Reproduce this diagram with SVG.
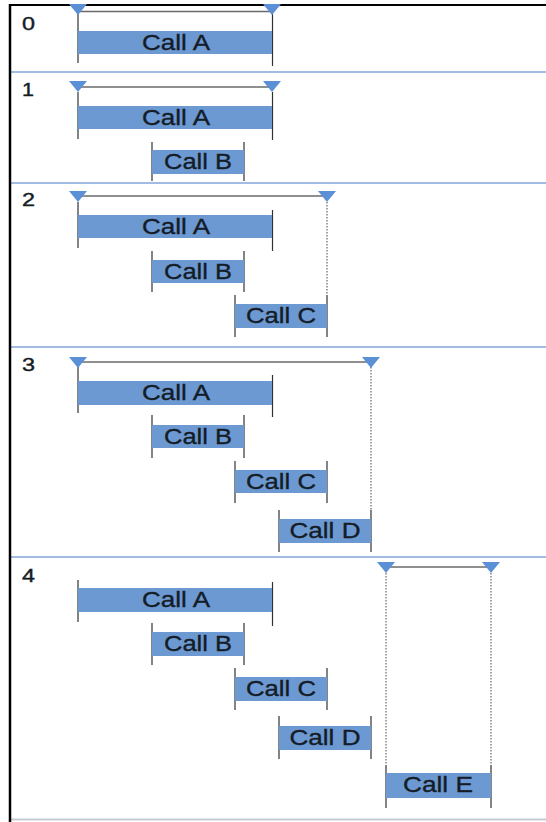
<svg xmlns="http://www.w3.org/2000/svg" width="546" height="822" viewBox="0 0 546 822">
<defs>
<style>
.bar{fill:#6d99d3}
.lbl{font-family:"Liberation Sans",Arial,sans-serif;font-size:22px;fill:#141c26;stroke:#141c26;stroke-width:0.35;text-anchor:middle}
.num{font-family:"Liberation Sans",Arial,sans-serif;font-size:18px;fill:#141c26;stroke:#141c26;stroke-width:0.4}
.tick{stroke:#2e3338;stroke-width:1.2}
.span{stroke:#6a6a6a;stroke-width:1.5}
.dot{stroke:#666;stroke-width:1.2;stroke-dasharray:1.5 1.5}
.div{stroke:#a3bbe3;stroke-width:2}
.tri{fill:#5b8fd6}
</style>
<polygon id="tri" class="tri" points="-9,0 9,0 0,11"/>
</defs>
<rect width="546" height="822" fill="#fff"/>
<g id="frame">
<line class="div" x1="10" y1="72" x2="546" y2="72"/>
<line class="div" x1="10" y1="183" x2="546" y2="183"/>
<line class="div" x1="10" y1="347" x2="546" y2="347"/>
<line class="div" x1="10" y1="557" x2="546" y2="557" stroke="#86a6dd"/>
<line x1="10" y1="819.5" x2="546" y2="819.5" stroke="#c8ccd2" stroke-width="2"/>
<line x1="10" y1="5" x2="546" y2="5" stroke="#000" stroke-width="2"/>
<line x1="10" y1="4" x2="10" y2="822" stroke="#000" stroke-width="2.5"/>
</g>
<g id="connectors">
<line class="span" x1="78" y1="11.5" x2="272" y2="11.5" stroke="#8c8a88"/>
<line class="tick" x1="78" y1="14" x2="78" y2="63"/>
<line class="tick" x1="272.5" y1="14" x2="272.5" y2="66"/>
<line class="span" x1="78" y1="87" x2="272" y2="87" stroke="#444"/>
<line class="tick" x1="78" y1="92" x2="78" y2="139"/>
<line class="tick" x1="272.5" y1="92" x2="272.5" y2="140"/>
<line class="tick" x1="152" y1="142" x2="152" y2="181"/>
<line class="tick" x1="244" y1="142" x2="244" y2="181"/>
<line class="span" x1="78" y1="196" x2="327" y2="196" stroke="#8a8a8a"/>
<line class="tick" x1="78" y1="202" x2="78" y2="248"/>
<line class="tick" x1="272.5" y1="210" x2="272.5" y2="251"/>
<line class="tick" x1="152" y1="251" x2="152" y2="292"/>
<line class="tick" x1="244" y1="251" x2="244" y2="292"/>
<line class="tick" x1="235" y1="295" x2="235" y2="337"/>
<line class="dot" x1="327" y1="202" x2="327" y2="295"/>
<line class="tick" x1="327" y1="295" x2="327" y2="337"/>
<line class="span" x1="78" y1="362" x2="371" y2="362" stroke="#444"/>
<line class="tick" x1="78" y1="367" x2="78" y2="413"/>
<line class="tick" x1="272.5" y1="375" x2="272.5" y2="417"/>
<line class="tick" x1="152" y1="415" x2="152" y2="458"/>
<line class="tick" x1="244" y1="415" x2="244" y2="458"/>
<line class="tick" x1="235" y1="461" x2="235" y2="503"/>
<line class="tick" x1="327" y1="461" x2="327" y2="503"/>
<line class="tick" x1="279" y1="510" x2="279" y2="552"/>
<line class="dot" x1="371" y1="367" x2="371" y2="510"/>
<line class="tick" x1="371" y1="510" x2="371" y2="552"/>
<line class="span" x1="386" y1="567" x2="491" y2="567" stroke="#9a9a9a"/>
<line class="tick" x1="78" y1="580" x2="78" y2="622"/>
<line class="tick" x1="272.5" y1="582" x2="272.5" y2="626"/>
<line class="tick" x1="152" y1="623" x2="152" y2="665"/>
<line class="tick" x1="244" y1="623" x2="244" y2="665"/>
<line class="tick" x1="235" y1="668" x2="235" y2="710"/>
<line class="tick" x1="327" y1="668" x2="327" y2="710"/>
<line class="tick" x1="279" y1="716" x2="279" y2="759"/>
<line class="tick" x1="371" y1="716" x2="371" y2="759"/>
<line class="dot" x1="386" y1="573" x2="386" y2="765"/>
<line class="dot" x1="491" y1="573" x2="491" y2="765"/>
<line class="tick" x1="386" y1="765" x2="386" y2="808"/>
<line class="tick" x1="491" y1="765" x2="491" y2="808"/>
</g>
<g id="panel0">
<text class="num" x="22" y="30" textLength="13" lengthAdjust="spacingAndGlyphs">0</text>
<use href="#tri" x="78" y="4"/>
<use href="#tri" x="272" y="4"/>
<g id="p0-callA"><rect class="bar" x="78" y="31" width="194" height="23"/><text class="lbl" x="176" y="50" textLength="68" lengthAdjust="spacingAndGlyphs">Call A</text></g>
</g>
<g id="panel1">
<text class="num" x="22" y="96" textLength="12" lengthAdjust="spacingAndGlyphs">1</text>
<use href="#tri" x="78" y="81"/>
<use href="#tri" x="272" y="81"/>
<g id="p1-callA"><rect class="bar" x="78" y="106" width="194" height="23"/><text class="lbl" x="176" y="125" textLength="68" lengthAdjust="spacingAndGlyphs">Call A</text></g>
<g id="p1-callB"><rect class="bar" x="152" y="150" width="92" height="24"/><text class="lbl" x="198" y="169" textLength="68" lengthAdjust="spacingAndGlyphs">Call B</text></g>
</g>
<g id="panel2">
<text class="num" x="22" y="206" textLength="13" lengthAdjust="spacingAndGlyphs">2</text>
<use href="#tri" x="78" y="191"/>
<use href="#tri" x="327" y="191"/>
<g id="p2-callA"><rect class="bar" x="78" y="215" width="194" height="23"/><text class="lbl" x="176" y="234" textLength="68" lengthAdjust="spacingAndGlyphs">Call A</text></g>
<g id="p2-callB"><rect class="bar" x="152" y="260" width="92" height="23"/><text class="lbl" x="198" y="279" textLength="68" lengthAdjust="spacingAndGlyphs">Call B</text></g>
<g id="p2-callC"><rect class="bar" x="235" y="304" width="92" height="24"/><text class="lbl" x="281" y="323" textLength="70" lengthAdjust="spacingAndGlyphs">Call C</text></g>
</g>
<g id="panel3">
<text class="num" x="22" y="371" textLength="13" lengthAdjust="spacingAndGlyphs">3</text>
<use href="#tri" x="78" y="357"/>
<use href="#tri" x="371" y="357"/>
<g id="p3-callA"><rect class="bar" x="78" y="381" width="194" height="24"/><text class="lbl" x="176" y="400" textLength="68" lengthAdjust="spacingAndGlyphs">Call A</text></g>
<g id="p3-callB"><rect class="bar" x="152" y="425" width="92" height="23"/><text class="lbl" x="198" y="444" textLength="68" lengthAdjust="spacingAndGlyphs">Call B</text></g>
<g id="p3-callC"><rect class="bar" x="235" y="470" width="92" height="23"/><text class="lbl" x="281" y="489" textLength="70" lengthAdjust="spacingAndGlyphs">Call C</text></g>
<g id="p3-callD"><rect class="bar" x="279" y="519" width="92" height="24"/><text class="lbl" x="325" y="538" textLength="71" lengthAdjust="spacingAndGlyphs">Call D</text></g>
</g>
<g id="panel4">
<text class="num" x="22" y="582" textLength="13" lengthAdjust="spacingAndGlyphs">4</text>
<use href="#tri" x="386" y="562"/>
<use href="#tri" x="491" y="562"/>
<g id="p4-callA"><rect class="bar" x="78" y="588" width="194" height="24"/><text class="lbl" x="176" y="607" textLength="68" lengthAdjust="spacingAndGlyphs">Call A</text></g>
<g id="p4-callB"><rect class="bar" x="152" y="632" width="92" height="24"/><text class="lbl" x="198" y="651" textLength="68" lengthAdjust="spacingAndGlyphs">Call B</text></g>
<g id="p4-callC"><rect class="bar" x="235" y="677" width="92" height="24"/><text class="lbl" x="281" y="696" textLength="70" lengthAdjust="spacingAndGlyphs">Call C</text></g>
<g id="p4-callD"><rect class="bar" x="279" y="726" width="92" height="24"/><text class="lbl" x="325" y="745" textLength="71" lengthAdjust="spacingAndGlyphs">Call D</text></g>
<g id="p4-callE"><rect class="bar" x="386" y="773" width="105" height="25"/><text class="lbl" x="438" y="792" textLength="70" lengthAdjust="spacingAndGlyphs">Call E</text></g>
</g>
</svg>
